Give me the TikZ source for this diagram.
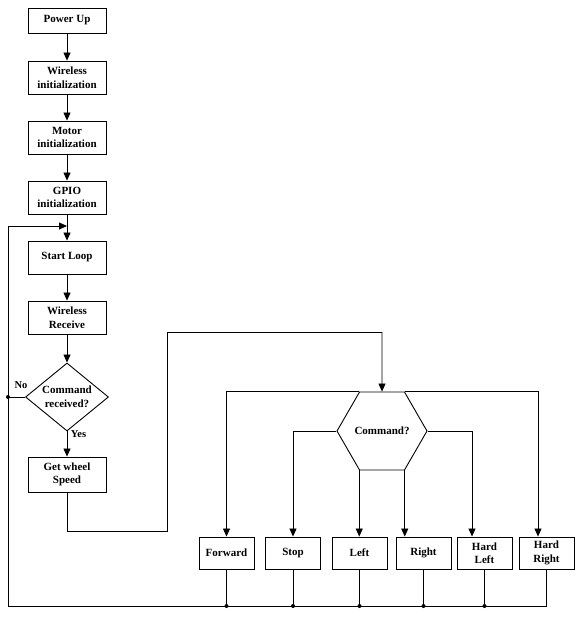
\documentclass[tikz,border=0pt]{standalone}
\usepackage{fontspec}
\setmainfont{Liberation Serif}
\usetikzlibrary{shapes.geometric,arrows.meta,calc}
\begin{document}
\begin{tikzpicture}[x=1pt,y=-1pt,
  every node/.style={font=\fontsize{11}{13.5}\selectfont\bfseries},
  box/.style={draw, line width=0.9pt, inner sep=1pt, align=center, minimum width=78pt, minimum height=33pt},
  sbox/.style={draw, line width=0.9pt, inner sep=1pt, align=center, minimum width=55pt, minimum height=32pt},
  dec/.style={draw, line width=0.9pt, diamond, aspect=1.22, inner sep=0pt, align=center, minimum width=83pt, minimum height=68pt},
  hex/.style={draw, line width=0.9pt, regular polygon, regular polygon sides=6, inner sep=0pt, minimum size=90pt},
  ln/.style={line width=0.8pt},
  arr/.style={ln, -{Triangle[length=8pt,width=7pt]}},
  dot/.style={circle, fill, inner sep=0pt, minimum size=4pt}]
\useasboundingbox (0,0) rectangle (582,628);

\node[box, minimum height=25pt] (pu) at (67,20.5) {Power Up};
\node[box] (wi) at (67,77.5) {Wireless\\initialization};
\node[box] (mi) at (67,137.5) {Motor\\initialization};
\node[box] (gi) at (67,197.5) {GPIO\\initialization};
\node[box] (sl) at (67,257.5) {Start Loop};
\node[box] (wr) at (67,317.5) {Wireless\\Receive};
\node[dec] (cr) at (67,397) {Command\\received?};
\node[box, minimum height=35pt] (gw) at (67,474.5) {Get wheel\\Speed};

\node[hex] (hx) at (382,431) {Command?};

\node[sbox] (fw) at (226.5,553) {Forward};
\node[sbox] (st) at (293,553) {Stop};
\node[sbox] (le) at (359.5,553) {Left};
\node[sbox] (ri) at (423.5,553) {Right};
\node[sbox] (hl) at (484.5,553) {Hard\\Left};
\node[sbox] (hr) at (546.5,553) {Hard\\Right};

\node[font=\fontsize{10.5}{12}\selectfont\bfseries] (no) at (21,385) {No};
\node[font=\fontsize{10.5}{12}\selectfont\bfseries] (yes) at (78.5,434) {Yes};

\coordinate (busL) at (8,606);
\coordinate (loopL) at (8,226);
\coordinate (loopR) at (67,226);
\coordinate (g1) at (67,531);
\coordinate (g2) at (167,531);
\coordinate (g3) at (167,332);
\coordinate (g4) at (382,332);

\draw[arr] (pu) -- (wi);
\draw[arr] (wi) -- (mi);
\draw[arr] (mi) -- (gi);
\draw[arr] (gi) -- (sl);
\draw[arr] (sl) -- (wr);
\draw[arr] (wr) -- (cr);
\draw[arr] (cr) -- (gw);

\draw[ln] (gw.south) -- (g1) -- (g2) -- (g3) -- (g4);
\draw[arr] (g4) -- (hx.north);

\draw[arr] (hx.120) -| (fw.north);
\draw[arr] (hx.60) -| ([xshift=-8.5pt]hr.north);
\draw[arr] (hx.180) -| (st.north);
\draw[arr] (hx.0) -| ([xshift=-12.5pt]hl.north);
\draw[arr] (hx.240) -- (hx.240 |- le.north);
\draw[arr] (hx.300) -- (hx.300 |- ri.north);

\draw[ln] (hr.south) |- (busL) -- (loopL);
\draw[arr] (loopL) -- (loopR);
\draw[ln] (fw.south) -- (fw.south |- busL) node[dot] (d1) {};
\draw[ln] (st.south) -- (st.south |- busL) node[dot] (d2) {};
\draw[ln] (le.south) -- (le.south |- busL) node[dot] (d3) {};
\draw[ln] (ri.south) -- (ri.south |- busL) node[dot] (d4) {};
\draw[ln] (hl.south) -- (hl.south |- busL) node[dot] (d5) {};
\draw[ln] (cr.west) -- (cr.west -| busL) node[dot] (d6) {};
\end{tikzpicture}
\end{document}
